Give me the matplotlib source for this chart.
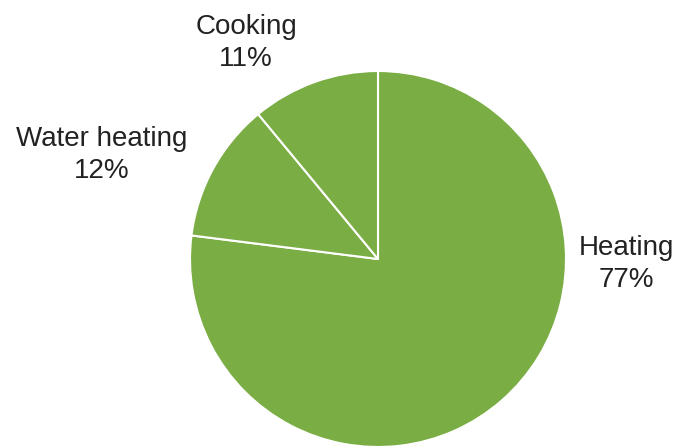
import matplotlib
matplotlib.use("Agg")
import matplotlib.pyplot as plt

categories = ["Heating", "Water heating", "Cooking"]
shares = [77, 12, 11]
label_pos = [(1.322, -0.028), (-1.471, 0.551), (-0.702, 1.147)]

W, H = 677, 447
cx, cy, r = 378, 259, 188
fig = plt.figure(figsize=(W / 100, H / 100), dpi=100)
ax = fig.add_axes([(cx - r) / W, (H - cy - r) / H, 2 * r / W, 2 * r / H])
ax.pie(shares, startangle=90, counterclock=False, colors=["#7AAD44"] * 3,
       wedgeprops=dict(edgecolor="white", linewidth=1.5))
ax.set_xlim(-1, 1)
ax.set_ylim(-1, 1)
ax.set_aspect("auto")
ax.axis("off")

for (x, y), c, s in zip(label_pos, categories, shares):
    ax.text(x, y, f"{c}\n{s}%", ha="center", va="center", multialignment="center",
            fontsize=20, family="Liberation Sans", color="#222222", clip_on=False,
            linespacing=1.3)

fig.savefig("out.png", dpi=100)
